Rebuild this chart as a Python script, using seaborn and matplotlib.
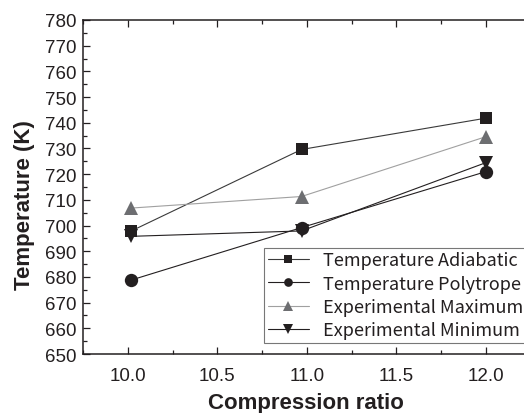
import matplotlib
matplotlib.use("Agg")
import matplotlib.pyplot as plt
import seaborn as sns
import pandas as pd
from matplotlib.ticker import MultipleLocator

# Compression ratios of the three test points
compression = [10.02, 10.97, 12.0]

# Temperatures (K)
temp_adiabatic = [697.9, 729.6, 741.8]
temp_polytrope = [678.8, 699.2, 721.0]
exp_maximum = [706.8, 711.3, 734.6]
exp_minimum = [695.8, 697.9, 724.5]

labels = ["Temperature Adiabatic", "Temperature Polytrope",
          "Experimental Maximum", "Experimental Minimum"]

sns.set_theme(style="ticks")
plt.rcParams["font.family"] = ["Liberation Sans", "DejaVu Sans"]

fig = plt.figure(figsize=(5.24, 4.14), dpi=100)
ax = fig.add_axes([0.1584, 0.1425, 1.0130 - 0.1584, 0.9493 - 0.1425])

series = [
    (temp_adiabatic, "s", "#3a3a3a", "#231f20", 8.6),
    (temp_polytrope, "o", "#231f20", "#231f20", 9.6),
    (exp_maximum, "^", "#a0a0a0", "#6d6e71", 10.6),
    (exp_minimum, "v", "#231f20", "#231f20", 10.6),
]

for (vals, mk, lc, mc, ms), lab in zip(series, labels):
    df = pd.DataFrame({"ratio": compression, "temp": vals})
    sns.lineplot(data=df, x="ratio", y="temp", ax=ax, color=lc, linewidth=0.8,
                 marker=mk, markersize=ms, markerfacecolor=mc,
                 markeredgecolor=mc, markeredgewidth=0, label=lab,
                 sort=False, estimator=None)

ax.set_xlim(9.75, 12.25)
ax.set_ylim(650, 780)
ax.xaxis.set_major_locator(MultipleLocator(0.5))
ax.xaxis.set_minor_locator(MultipleLocator(0.25))
ax.yaxis.set_major_locator(MultipleLocator(10))
ax.yaxis.set_minor_locator(MultipleLocator(5))
ax.set_xticks([10.0, 10.5, 11.0, 11.5, 12.0])
ax.set_xticklabels(["10.0", "10.5", "11.0", "11.5", "12.0"])

ax.tick_params(which="both", direction="in", top=True, right=True,
               colors="#231f20", width=0.9)
ax.tick_params(which="major", length=5, labelsize=13.5,
               labelcolor="#231f20")
ax.tick_params(axis="x", which="major", pad=9)
ax.tick_params(axis="y", which="major", pad=5)
ax.tick_params(which="minor", length=3)
for s in ax.spines.values():
    s.set_visible(True)
    s.set_linewidth(1.1)
    s.set_color("#231f20")

ax.set_xlabel("Compression ratio", fontsize=16, fontweight="bold",
              color="#231f20")
ax.set_ylabel("Temperature (K)", fontsize=16, fontweight="bold",
              color="#231f20")
ax.xaxis.set_label_coords(0.498, -0.113)
ax.yaxis.set_label_coords(-0.108, 0.449)

leg = ax.legend(loc="lower left", bbox_to_anchor=(0.404, 0.033),
                prop={"family": ["Noto Sans CJK JP", "DejaVu Sans"], "size": 13},
                frameon=True, fancybox=False, edgecolor="#555555",
                borderpad=0.2, labelspacing=0.3, handlelength=2.3,
                handletextpad=0.75, markerscale=0.65, borderaxespad=0.0)
leg.get_frame().set_linewidth(0.8)
for t in leg.get_texts():
    t.set_color("#231f20")

fig.savefig("out.png", dpi=100)
